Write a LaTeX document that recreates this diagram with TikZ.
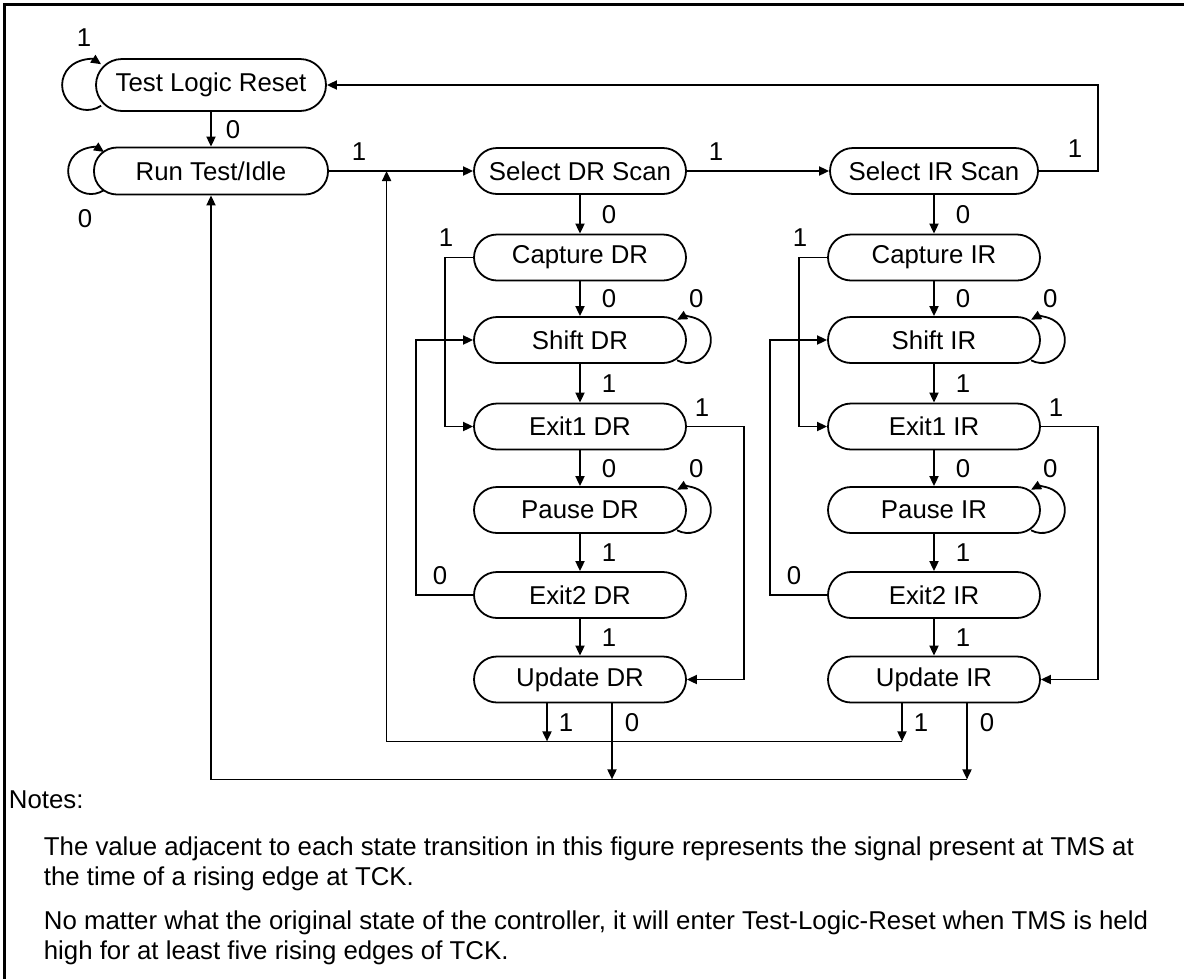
\documentclass[tikz,border=0pt]{standalone}
\usepackage{fontspec}
\setmainfont{Liberation Sans}
\usepackage{tikz}
\usetikzlibrary{positioning, calc, arrows.meta, backgrounds}

\newcommand{\jtagfont}{\fontsize{25.8}{30}\selectfont}

\begin{document}
\begin{tikzpicture}[x=1pt, y=1pt, line width=1.8pt,
    >={Triangle[length=10pt, width=9pt]},
    state/.style={draw, fill=white, rounded corners=23pt, minimum width=212pt,
      minimum height=46pt, inner sep=0pt, font=\jtagfont},
    selfloop/.style={line width=1.8pt, -{Triangle[length=10pt, width=9pt]}},
    lbl/.style={font=\jtagfont, inner sep=0pt},
    note/.style={font=\jtagfont, inner sep=0pt}]
    \useasboundingbox (0,0) rectangle (1184,-978);

    % Frame
    \draw[line width=2.2pt] (4.5,-1000) |- (1200,-4.5);

    % Top states
    \node[state, minimum width=230pt, minimum height=52pt, rounded corners=26pt] (tlr) at (211,-85) {Test Logic Reset};
    \node[state, minimum width=234pt, minimum height=47pt] (run) at (211,-171) {Run Test/Idle};
    \node[state] (seldr) at (580,-171) {Select DR Scan};
    \node[state, minimum width=208pt] (selir) at (934,-171) {Select IR Scan};

    % DR column
    \node[state] (capdr) at (580,-257.5) {Capture DR};
    \node[state] (shdr) at (580,-340) {Shift DR};
    \node[state] (ex1dr) at (580,-426.5) {Exit1 DR};
    \node[state] (pdr) at (580,-510) {Pause DR};
    \node[state] (ex2dr) at (580,-595) {Exit2 DR};
    \node[state] (updr) at (580,-679.5) {Update DR};

    % IR column
    \node[state] (capir) at (934,-257.5) {Capture IR};
    \node[state] (shir) at (934,-340) {Shift IR};
    \node[state] (ex1ir) at (934,-426.5) {Exit1 IR};
    \node[state] (pir) at (934,-510) {Pause IR};
    \node[state] (ex2ir) at (934,-595) {Exit2 IR};
    \node[state] (upir) at (934,-679.5) {Update IR};

    % Self loops
    \begin{scope}[on background layer]
        \draw[selfloop] ([shift={(6,-20.7)}]tlr.west) arc[start angle=-56, end angle=-304, radius=25]
            node[lbl, above left=17pt and 9pt] {1};
        \draw[selfloop] ([shift={(10.9,-19.1)}]run.west) node[lbl, below left=18pt and 11pt] {0}
            arc[start angle=-56, end angle=-304, radius=23];
        \draw[selfloop] ([shift={(-9.8,-20.3)}]shdr.east) arc[start angle=-118, end angle=118, radius=23]
            node[lbl, above right=11pt and 11pt] {0};
        \draw[selfloop] ([shift={(-9.8,-20.3)}]pdr.east) arc[start angle=-118, end angle=118, radius=23]
            node[lbl, above right=11pt and 11pt] {0};
        \draw[selfloop] ([shift={(-9.8,-20.3)}]shir.east) arc[start angle=-118, end angle=118, radius=23]
            node[lbl, above right=11pt and 11pt] {0};
        \draw[selfloop] ([shift={(-9.8,-20.3)}]pir.east) arc[start angle=-118, end angle=118, radius=23]
            node[lbl, above right=11pt and 11pt] {0};
    \end{scope}

    % Top transitions
    \draw[->] (tlr) -- node[lbl, right=14pt] {0} (run);
    \draw[->] (run.east) node[lbl, above right=10pt and 22pt] {1} -- (seldr.west);
    \draw[->] (seldr.east) node[lbl, above right=10pt and 21pt] {1} -- (selir.west);
    \draw[->] (selir.east) node[lbl, above right=13pt and 28pt] {1} -- ++(59,0) |- (tlr.east);

    % DR transitions
    \draw[->] (seldr) -- node[lbl, right=21pt] {0} (capdr);
    \draw[->] (capdr) -- node[lbl, right=21pt] {0} (shdr);
    \draw[->] (shdr) -- node[lbl, right=21pt] {1} (ex1dr);
    \draw[->] (ex1dr) -- node[lbl, right=21pt] {0} (pdr);
    \draw[->] (pdr) -- node[lbl, right=21pt] {1} (ex2dr);
    \draw[->] (ex2dr) -- node[lbl, right=21pt] {1} (updr);
    \draw[->] (capdr.west) node[lbl, above left=10pt and 19pt] {1} -- ++(-28,0) |- (ex1dr.west);
    \draw[->] (ex2dr.west) node[lbl, above left=9pt and 25pt] {0} -- ++(-57,0) |- (shdr.west);
    \draw[->] (ex1dr.east) node[lbl, above right=9pt and 7pt] {1} -- ++(57,0) |- (updr.east);

    % IR transitions
    \draw[->] (selir) -- node[lbl, right=21pt] {0} (capir);
    \draw[->] (capir) -- node[lbl, right=21pt] {0} (shir);
    \draw[->] (shir) -- node[lbl, right=21pt] {1} (ex1ir);
    \draw[->] (ex1ir) -- node[lbl, right=21pt] {0} (pir);
    \draw[->] (pir) -- node[lbl, right=21pt] {1} (ex2ir);
    \draw[->] (ex2ir) -- node[lbl, right=21pt] {1} (upir);
    \draw[->] (capir.west) node[lbl, above left=10pt and 19pt] {1} -- ++(-28,0) |- (ex1ir.west);
    \draw[->] (ex2ir.west) node[lbl, above left=9pt and 25pt] {0} -- ++(-57,0) |- (shir.west);
    \draw[->] (ex1ir.east) node[lbl, above right=9pt and 7pt] {1} -- ++(57,0) |- (upir.east);

    % Return paths
    \coordinate (jn) at ($(run.east)!0.4!(seldr.west)$);
    \draw[->] ([xshift=-33pt]updr.south) -- node[lbl, right=11pt] {1} ++(0,-38);
    \draw[->] ([xshift=-32pt]upir.south) -- node[lbl, right=11pt] {1} ++(0,-38) coordinate (ir1);
    \draw[->] (ir1) -| (jn);
    \draw[->] ([xshift=32pt]updr.south) -- node[lbl, pos=0.25, right=12pt] {0} ++(0,-76);
    \draw[->] ([xshift=33pt]upir.south) -- node[lbl, pos=0.25, right=12pt] {0} ++(0,-76) coordinate (ir0);
    \draw[->] (ir0) -| (run);

    % Notes
    \node[note, anchor=base west] (notes) at (8,-808) {Notes:};
    \node[note, anchor=north west, align=left] (body) at (43,-836)
        {The value adjacent to each state transition in this figure represents the signal present at TMS at\\
         the time of a rising edge at TCK.\\[14pt]
         No matter what the original state of the controller, it will enter Test-Logic-Reset when TMS is held\\
         high for at least five rising edges of TCK.};
\end{tikzpicture}
\end{document}
